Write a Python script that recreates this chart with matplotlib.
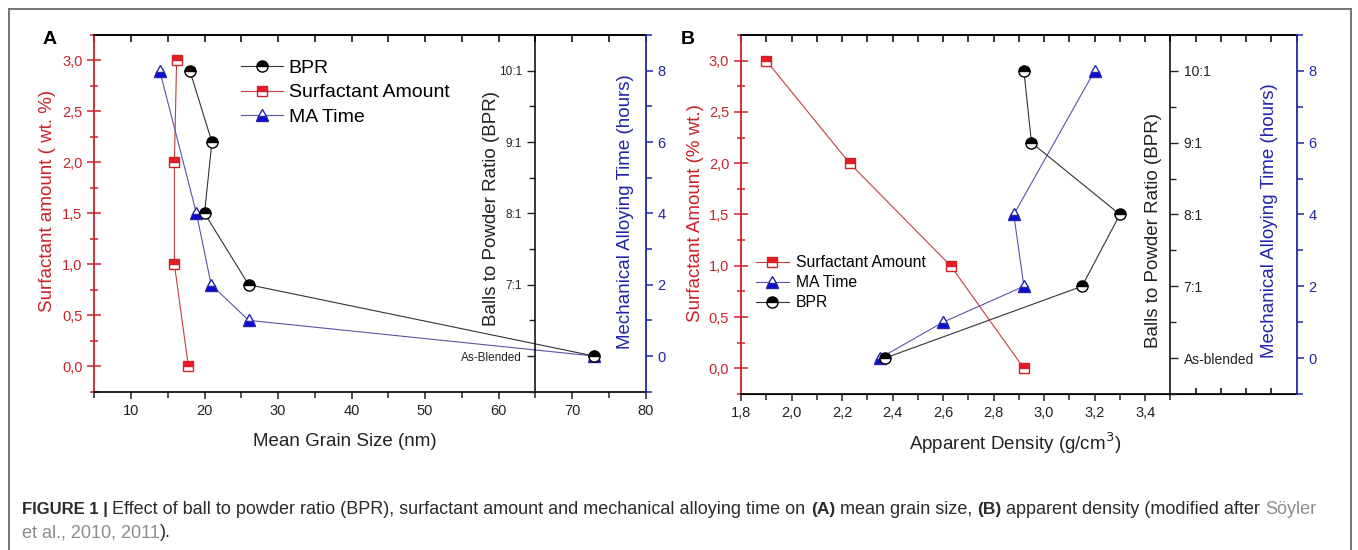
import matplotlib
matplotlib.use("Agg")
import matplotlib.pyplot as plt
from matplotlib.patches import Rectangle
from matplotlib.ticker import MultipleLocator, FixedLocator, FuncFormatter

plt.rcParams["font.family"] = ["Liberation Sans", "DejaVu Sans"]

W, H = 1358, 550

RED = "#cc2229"
RED_FILL = "#ea1c22"
RED_LINE = "#c04040"
BLUE = "#2424aa"
BLUE_FILL = "#0b0bd6"
BLUE_LINE = "#5656a6"
DARK = "#222222"

# tick labels of the BPR axis, bottom to top
BPR_TICKS_A = ["As-Blended", "7:1", "8:1", "9:1", "10:1"]
BPR_TICKS_B = ["As-blended", "7:1", "8:1", "9:1", "10:1"]

# panel A : mean grain size (nm)
A_SURF_GRAIN = [16.2, 15.9, 15.9, 17.8]
A_SURF_AMOUNT = [3.0, 2.0, 1.0, 0.0]
A_MA_GRAIN = [13.9, 18.9, 20.9, 26.0, 73.0]
A_MA_HOURS = [8, 4, 2, 1, 0]
A_BPR_GRAIN = [18.0, 21.0, 20.0, 26.0, 73.0]
A_BPR = ["10:1", "9:1", "8:1", "7:1", "As-Blended"]

# panel B : apparent density (g/cm3)
B_SURF_DENS = [1.90, 2.23, 2.63, 2.92]
B_SURF_AMOUNT = [3.0, 2.0, 1.0, 0.0]
B_MA_DENS = [3.20, 2.88, 2.92, 2.60, 2.35]
B_MA_HOURS = [8, 4, 2, 1, 0]
B_BPR_DENS = [2.92, 2.95, 3.30, 3.15, 2.37]
B_BPR = ["10:1", "9:1", "8:1", "7:1", "As-blended"]

SURF_STYLE = dict(color=RED_LINE, lw=0.8, marker="s", ms=7, mfc=RED_FILL,
                  markerfacecoloralt="white", mec=RED, mew=1.0, fillstyle="top")
MA_STYLE = dict(color=BLUE_LINE, lw=0.8, marker="^", ms=8.5, mfc=BLUE_FILL,
                markerfacecoloralt="white", mec=BLUE, mew=1.0, fillstyle="bottom")
BPR_STYLE = dict(color="#333333", lw=0.8, marker="o", ms=8, mfc="black",
                 markerfacecoloralt="white", mec="black", mew=1.0, fillstyle="top")

comma = FuncFormatter(lambda v, p: f"{v:.1f}".replace(".", ","))


def fx(px):
    return px / W


def fy(py):
    return 1 - py / H


def add_axes_px(left, top, right, bottom):
    return fig.add_axes([fx(left), fy(bottom), (right - left) / W, (bottom - top) / H])


def place_label(axis, text, px, py, size, color):
    axis.set_label_text(text, fontsize=size, color=color)
    axis.set_label_coords(fx(px), fy(py), transform=fig.transFigure)
    axis.label.set_va("center")
    axis.label.set_ha("center")


def base_axes(ax, xlim):
    ax.set_xlim(*xlim)
    ax.set_ylim(-0.25, 3.25)
    ax.yaxis.set_major_locator(MultipleLocator(0.5))
    ax.yaxis.set_minor_locator(MultipleLocator(0.25))
    ax.yaxis.set_major_formatter(comma)
    ax.spines["left"].set_color(RED)
    ax.spines["left"].set_linewidth(1.3)
    ax.spines["right"].set_visible(False)
    for s in ("top", "bottom"):
        ax.spines[s].set_linewidth(1.2)
    ax.tick_params(axis="y", which="both", direction="inout", colors=RED,
                   labelsize=10.5, width=1.1)
    ax.tick_params(axis="y", which="major", length=10)
    ax.tick_params(axis="y", which="minor", length=6)
    ax.xaxis.set_ticks_position("bottom")
    ax.tick_params(axis="x", which="both", direction="out", labelsize=10.5,
                   width=1.1, colors=DARK)
    ax.tick_params(axis="x", which="major", length=5)
    ax.tick_params(axis="x", which="minor", length=4)


def ma_axes(ax):
    tw = ax.twinx()
    tw.set_ylim(-1, 9)
    tw.yaxis.set_major_locator(MultipleLocator(2))
    tw.yaxis.set_minor_locator(MultipleLocator(1))
    for s in ("left", "top", "bottom"):
        tw.spines[s].set_visible(False)
    tw.spines["right"].set_color(BLUE)
    tw.spines["right"].set_linewidth(1.3)
    tw.tick_params(axis="y", which="both", direction="out", colors=BLUE,
                   labelsize=10.5, width=1.1)
    tw.tick_params(axis="y", which="major", length=5)
    tw.tick_params(axis="y", which="minor", length=4)
    return tw


def bpr_axes(ax, pos, side, labels, size):
    tw = ax.twinx()
    tw.set_ylim(-0.5, len(labels) - 0.5)
    tw.yaxis.set_major_locator(FixedLocator(range(len(labels))))
    tw.set_yticklabels(labels)
    tw.yaxis.set_minor_locator(MultipleLocator(0.5))
    for s in tw.spines:
        tw.spines[s].set_visible(False)
    if side == "left":
        tw.yaxis.tick_left()
    else:
        tw.yaxis.tick_right()
    tw.spines[side].set_visible(True)
    tw.spines[side].set_position(("axes", pos))
    tw.spines[side].set_linewidth(1.1)
    tw.tick_params(axis="y", which="both", direction="out", colors=DARK,
                   labelsize=size, width=1.0)
    tw.tick_params(axis="y", which="major", length=6)
    tw.tick_params(axis="y", which="minor", length=4)
    return tw


def top_ticks(ax, ticks):
    sec = ax.secondary_xaxis("top")
    sec.set_xticks(ticks)
    sec.tick_params(direction="in", length=5, width=1.1, labeltop=False)
    sec.spines["top"].set_linewidth(1.2)
    return sec


fig = plt.figure(figsize=(W / 100, H / 100), dpi=100)

# ---------------- panel A ----------------
axA = add_axes_px(94.3, 35, 645.5, 391.7)
base_axes(axA, (5, 80))
axA.xaxis.set_major_locator(MultipleLocator(10))
axA.xaxis.set_minor_locator(MultipleLocator(5))
top_ticks(axA, list(range(5, 81, 5)))
maA = ma_axes(axA)
bprA = bpr_axes(axA, (65 - 5) / (80 - 5), "left", BPR_TICKS_A, 8.5)

sA, = axA.plot(A_SURF_GRAIN, A_SURF_AMOUNT, label="Surfactant Amount", **SURF_STYLE)
mA, = maA.plot(A_MA_GRAIN, A_MA_HOURS, label="MA Time", **MA_STYLE)
bA, = bprA.plot(A_BPR_GRAIN, [BPR_TICKS_A.index(b) for b in A_BPR],
                label="BPR", **BPR_STYLE)

place_label(axA.yaxis, "Surfactant amount ( wt. %)", 47.5, 201, 13.5, RED)
place_label(bprA.yaxis, "Balls to Powder Ratio (BPR)", 491.5, 209, 13.5, DARK)
place_label(maA.yaxis, "Mechanical Alloying Time (hours)", 625, 212, 13.5, BLUE)
place_label(axA.xaxis, "Mean Grain Size (nm)", 345, 441, 13.5, DARK)

bprA.legend(handles=[bA, sA, mA], loc="upper left",
            bbox_to_anchor=(fx(241), fy(59)), bbox_transform=fig.transFigure,
            frameon=False, fontsize=14, numpoints=1, handlelength=2.15,
            handletextpad=0.3, labelspacing=0.37, borderpad=0, borderaxespad=0)

# ---------------- panel B ----------------
axB = add_axes_px(741, 35, 1296.7, 394)
base_axes(axB, (1.8, 4.0))
axB.xaxis.set_major_locator(FixedLocator([1.8, 2.0, 2.2, 2.4, 2.6, 2.8, 3.0, 3.2, 3.4]))
axB.xaxis.set_minor_locator(FixedLocator([1.9, 2.1, 2.3, 2.5, 2.7, 2.9, 3.1, 3.3, 3.5]))
axB.xaxis.set_major_formatter(comma)
top_ticks(axB, [1.8 + 0.1 * i for i in range(23)])
inner = axB.secondary_xaxis("bottom")
inner.set_xticks([3.6, 3.7, 3.8, 3.9])
inner.tick_params(direction="in", length=4, width=1.1, labelbottom=False)
maB = ma_axes(axB)
bprB = bpr_axes(axB, (3.5 - 1.8) / (4.0 - 1.8), "right", BPR_TICKS_B, 10)

sB, = axB.plot(B_SURF_DENS, B_SURF_AMOUNT, label="Surfactant Amount", **SURF_STYLE)
mB, = maB.plot(B_MA_DENS, B_MA_HOURS, label="MA Time", **MA_STYLE)
bB, = bprB.plot(B_BPR_DENS, [BPR_TICKS_B.index(b) for b in B_BPR],
                label="BPR", **BPR_STYLE)

place_label(axB.yaxis, "Surfactant Amount (% wt.)", 695, 213, 13.5, RED)
place_label(bprB.yaxis, "Balls to Powder Ratio (BPR)", 1153, 231, 13.5, DARK)
place_label(maB.yaxis, "Mechanical Alloying Time (hours)", 1270, 221, 13.5, BLUE)
place_label(axB.xaxis, "Apparent Density (g/cm$^3$)", 1015, 443, 13.5, DARK)

bprB.legend(handles=[sB, mB, bB], loc="upper left",
            bbox_to_anchor=(fx(756), fy(255)), bbox_transform=fig.transFigure,
            frameon=False, fontsize=11.3, numpoints=1, handlelength=2.1,
            handletextpad=0.45, labelspacing=0.33, borderpad=0, borderaxespad=0)

# panel letters
fig.text(fx(50), fy(40), "A", fontsize=14, fontweight="bold", ha="center", va="center")
fig.text(fx(688), fy(40), "B", fontsize=14, fontweight="bold", ha="center", va="center")

# outer frame, open at the bottom edge
fig.add_artist(Rectangle((fx(8.5), -0.05), (1351 - 8.5) / W, fy(9) + 0.05,
                         transform=fig.transFigure, fill=False,
                         edgecolor="#6a6a6a", lw=1.3))

# caption
renderer = fig.canvas.get_renderer()


def text_width(s, weight, size):
    t1 = fig.text(0, 0, "|" + s + "|", fontsize=size, fontweight=weight)
    t2 = fig.text(0, 0, "||", fontsize=size, fontweight=weight)
    w = t1.get_window_extent(renderer).width - t2.get_window_extent(renderer).width
    t1.remove()
    t2.remove()
    return w


def caption_line(pieces, x, y):
    for s, weight, color, size in pieces:
        fig.text(fx(x), fy(y), s, fontsize=size, fontweight=weight, color=color,
                 ha="left", va="baseline")
        x += text_width(s, weight, size)


CAP_DARK = "#2b2b2b"
CAP_LINK = "#8c8c8c"
caption_line([
    ("FIGURE 1 | ", "bold", CAP_DARK, 12),
    ("Effect of ball to powder ratio (BPR), surfactant amount and mechanical "
     "alloying time on ", "normal", CAP_DARK, 13),
    ("(A)", "bold", CAP_DARK, 12.5),
    (" mean grain size, ", "normal", CAP_DARK, 13),
    ("(B)", "bold", CAP_DARK, 12.5),
    (" apparent density (modified after ", "normal", CAP_DARK, 13),
    ("Söyler", "normal", CAP_LINK, 13),
], 22, 514)
caption_line([
    ("et al., 2010, 2011", "normal", CAP_LINK, 13),
    (").", "normal", CAP_DARK, 13),
], 22, 537)

fig.savefig("out.png", dpi=100)
